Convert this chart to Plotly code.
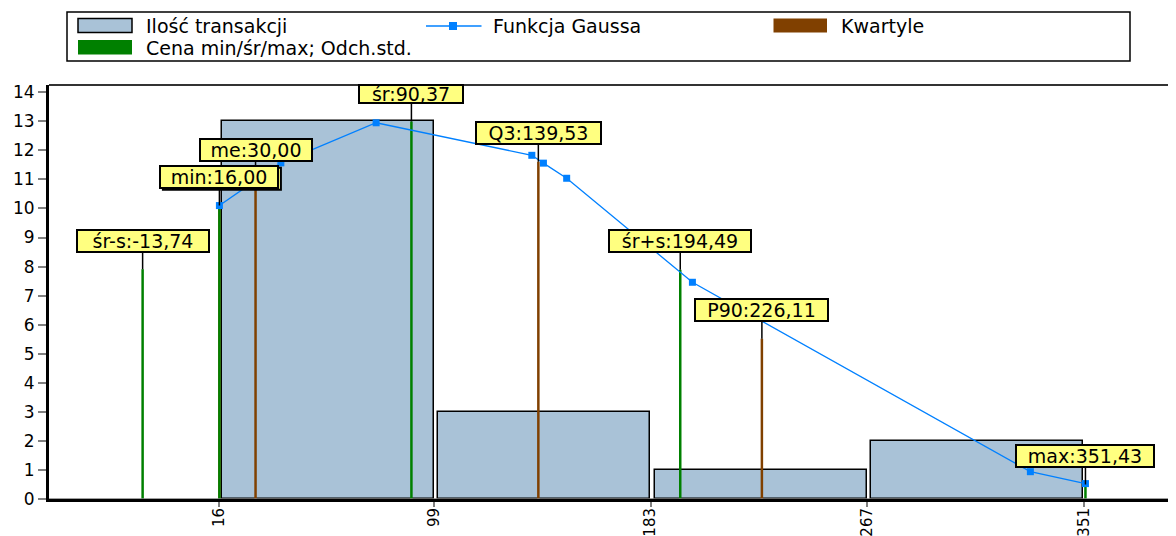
import plotly.graph_objects as go

# ---------------- data ----------------
bin_edges = [16.00, 99.86, 183.71, 267.57, 351.43]
bin_counts = [13, 3, 1, 2]

gauss_x = [16.0, 39.8, 76.7, 137.0, 141.5, 150.5, 199.2, 330.1, 351.43]
gauss_y = [10.10, 11.57, 12.95, 11.83, 11.56, 11.04, 7.46, 0.94, 0.53]

# price statistics (green): min / mean / max / mean +- std
price_names = ["śr-s", "min", "śr", "śr+s", "max"]
price_x = [-13.74, 16.00, 90.37, 194.49, 351.43]
price_h = [7.91, 10.10, 12.99, 7.89, 0.50]

# quartiles (brown); Q1 coincides with min (its label box lies under "min")
quart_names = ["Q1", "me", "Q3", "P90"]
quart_x = [16.00, 30.00, 139.53, 226.11]
quart_h = [10.10, 11.02, 11.61, 5.52]

x_tickvals = [16, 99, 183, 267, 351]
x_ticktext = ["16", "99", "183", "267", "351"]
y_tickvals = list(range(0, 15))

legend_names = ["Ilość transakcji", "Funkcja Gaussa", "Kwartyle", "Cena min/śr/max; Odch.std."]

# ---------------- style ----------------
BAR_COLOR = "#a9c2d7"
GREEN = "#008000"
BROWN = "#804000"
BLUE = "#0080ff"
LABEL_BG = "#ffff80"
FONT = "DejaVu Sans"

# page has an 8px body margin: design in screen pixels and shift
OFF = 8
SW, SH = 1176, 536               # screen size
W, H = SW - OFF, SH - OFF        # figure size
SL, SR, ST, SB = 49, 1176, 85, 499   # plot area in screen pixels
L, R, T, B = SL - OFF, SR - OFF, ST - OFF, SB - OFF


def pxx(px):
    return (px - OFF - L) / (R - L)


def pxy(py):
    return (B - (py - OFF)) / (B - T)


def fmt(v):
    return f"{v:.2f}".replace(".", ",")


fig = go.Figure()

centers = [(bin_edges[i] + bin_edges[i + 1]) / 2 for i in range(len(bin_counts))]
fig.add_trace(go.Bar(
    x=centers, y=bin_counts, width=[82] * len(bin_counts),
    marker=dict(color=BAR_COLOR, line=dict(color="black", width=1.5)),
    name=legend_names[0], showlegend=False,
))


def vlines(xs, hs):
    vx, vy = [], []
    for x, h in zip(xs, hs):
        vx += [x, x, None]
        vy += [0, h, None]
    return vx, vy


qx, qy = vlines(quart_x, quart_h)
fig.add_trace(go.Scatter(x=qx, y=qy, mode="lines", line=dict(color=BROWN, width=2.5),
                         name=legend_names[2], showlegend=False))
gx, gy = vlines(price_x, price_h)
fig.add_trace(go.Scatter(x=gx, y=gy, mode="lines", line=dict(color=GREEN, width=2.5),
                         name=legend_names[3], showlegend=False))

fig.add_trace(go.Scatter(
    x=gauss_x, y=gauss_y, mode="lines+markers",
    line=dict(color=BLUE, width=1.3),
    marker=dict(symbol="square", size=7, color=BLUE),
    name=legend_names[1], showlegend=False,
))

# ---------------- value labels ----------------
annotations = []
shapes = []
box_w = {"śr-s": 134, "min": 120, "Q1": 120, "me": 114, "śr": 106,
         "Q3": 127, "śr+s": 144, "P90": 135, "max": 140}
box_h = {"śr": 20}

labels = []
for n, x, h in zip(quart_names, quart_x, quart_h):
    labels.append((n, x, h))
for n, x, h in zip(price_names, price_x, price_h):
    labels.append((n, x, h))

for n, x, h in labels:
    ow = box_w[n]
    oh = box_h.get(n, 24)
    gap = 17.7 if n == "śr" else 16.5
    ay = -(gap + oh / 2)
    if n == "Q1":
        # hidden label box, peeking out from under the "min" box
        cx, cy = 2.5, -ay - 1.7
        shapes.append(dict(
            type="rect", xref="x", yref="y", xsizemode="pixel", ysizemode="pixel",
            xanchor=x, yanchor=h,
            x0=cx - ow / 2 + 1, x1=cx + ow / 2 - 1,
            y0=cy - oh / 2 + 1, y1=cy + oh / 2 - 1,
            line=dict(color="black", width=2), fillcolor=LABEL_BG, layer="above",
        ))
        continue
    annotations.append(dict(
        x=x, y=h, xref="x", yref="y", text=f"{n}:{fmt(x)}",
        showarrow=True, arrowhead=0, arrowwidth=1.5, arrowcolor="black",
        ax=0, ay=ay, axref="pixel", ayref="pixel", standoff=0,
        bgcolor=LABEL_BG, bordercolor="black", borderwidth=2, borderpad=0,
        width=ow - 4, height=oh - 4, align="center", valign="middle",
        font=dict(family=FONT, size=19, color="black"),
    ))

# ---------------- custom legend ----------------
shapes.append(dict(type="rect", xref="paper", yref="paper",
                   x0=pxx(67), x1=pxx(1130), y0=pxy(61), y1=pxy(12),
                   line=dict(color="black", width=1.5), fillcolor="white", layer="above"))
shapes.append(dict(type="rect", xref="paper", yref="paper",
                   x0=pxx(78), x1=pxx(132), y0=pxy(32.5), y1=pxy(18.5),
                   line=dict(color="black", width=1.5), fillcolor=BAR_COLOR, layer="above"))
shapes.append(dict(type="rect", xref="paper", yref="paper",
                   x0=pxx(78), x1=pxx(132), y0=pxy(54.5), y1=pxy(40),
                   line=dict(width=0), fillcolor=GREEN, layer="above"))
shapes.append(dict(type="rect", xref="paper", yref="paper",
                   x0=pxx(773.5), x1=pxx(827), y0=pxy(32.5), y1=pxy(18.5),
                   line=dict(width=0), fillcolor=BROWN, layer="above"))
shapes.append(dict(type="line", xref="paper", yref="paper",
                   x0=pxx(426), x1=pxx(481.5), y0=pxy(26), y1=pxy(26),
                   line=dict(color=BLUE, width=1.5), layer="above"))
shapes.append(dict(type="rect", xref="paper", yref="paper",
                   x0=pxx(449), x1=pxx(457), y0=pxy(30), y1=pxy(22),
                   line=dict(width=0), fillcolor=BLUE, layer="above"))

legend_pos = [(143.5, 26), (491, 26), (839, 26), (143.5, 48)]
for name, (lx, ly) in zip(legend_names, legend_pos):
    annotations.append(dict(
        x=pxx(lx), y=pxy(ly), xref="paper", yref="paper", text=name,
        showarrow=False, xanchor="left", yanchor="middle",
        font=dict(family=FONT, size=19, color="black"),
    ))

# top frame line and grey base line
shapes.append(dict(type="line", xref="paper", yref="paper", x0=0, x1=1, y0=1, y1=1,
                   line=dict(color="#333333", width=2), layer="above"))
shapes.append(dict(type="line", xref="paper", yref="y", x0=0, x1=1, y0=0, y1=0,
                   line=dict(color="#808080", width=1.5), layer="above"))

fig.update_layout(
    template="none",
    width=W, height=H,
    margin=dict(l=L, r=W - R, t=T, b=H - B, autoexpand=False),
    plot_bgcolor="white", paper_bgcolor="white",
    showlegend=False, bargap=0,
    font=dict(family=FONT, size=17, color="black"),
    annotations=annotations, shapes=shapes,
)
fig.update_xaxes(
    range=[-50, 386.5], tickmode="array", tickvals=x_tickvals, ticktext=x_ticktext,
    tickangle=-90, ticks="outside", ticklen=5, tickwidth=1.5, tickcolor="#808080",
    ticklabelstandoff=-5,
    showline=True, linecolor="black", linewidth=3, showgrid=False, zeroline=False,
    automargin=False, tickfont=dict(family=FONT, size=15, color="black"),
)
fig.update_yaxes(
    range=[0, 14.25], tickmode="array", tickvals=y_tickvals,
    ticks="outside", ticklen=8, tickwidth=1.5, tickcolor="#808080",
    showline=True, linecolor="black", linewidth=3, showgrid=False, zeroline=False,
    automargin=False, tickfont=dict(family=FONT, size=17, color="black"),
)

fig.write_html("out.html")
